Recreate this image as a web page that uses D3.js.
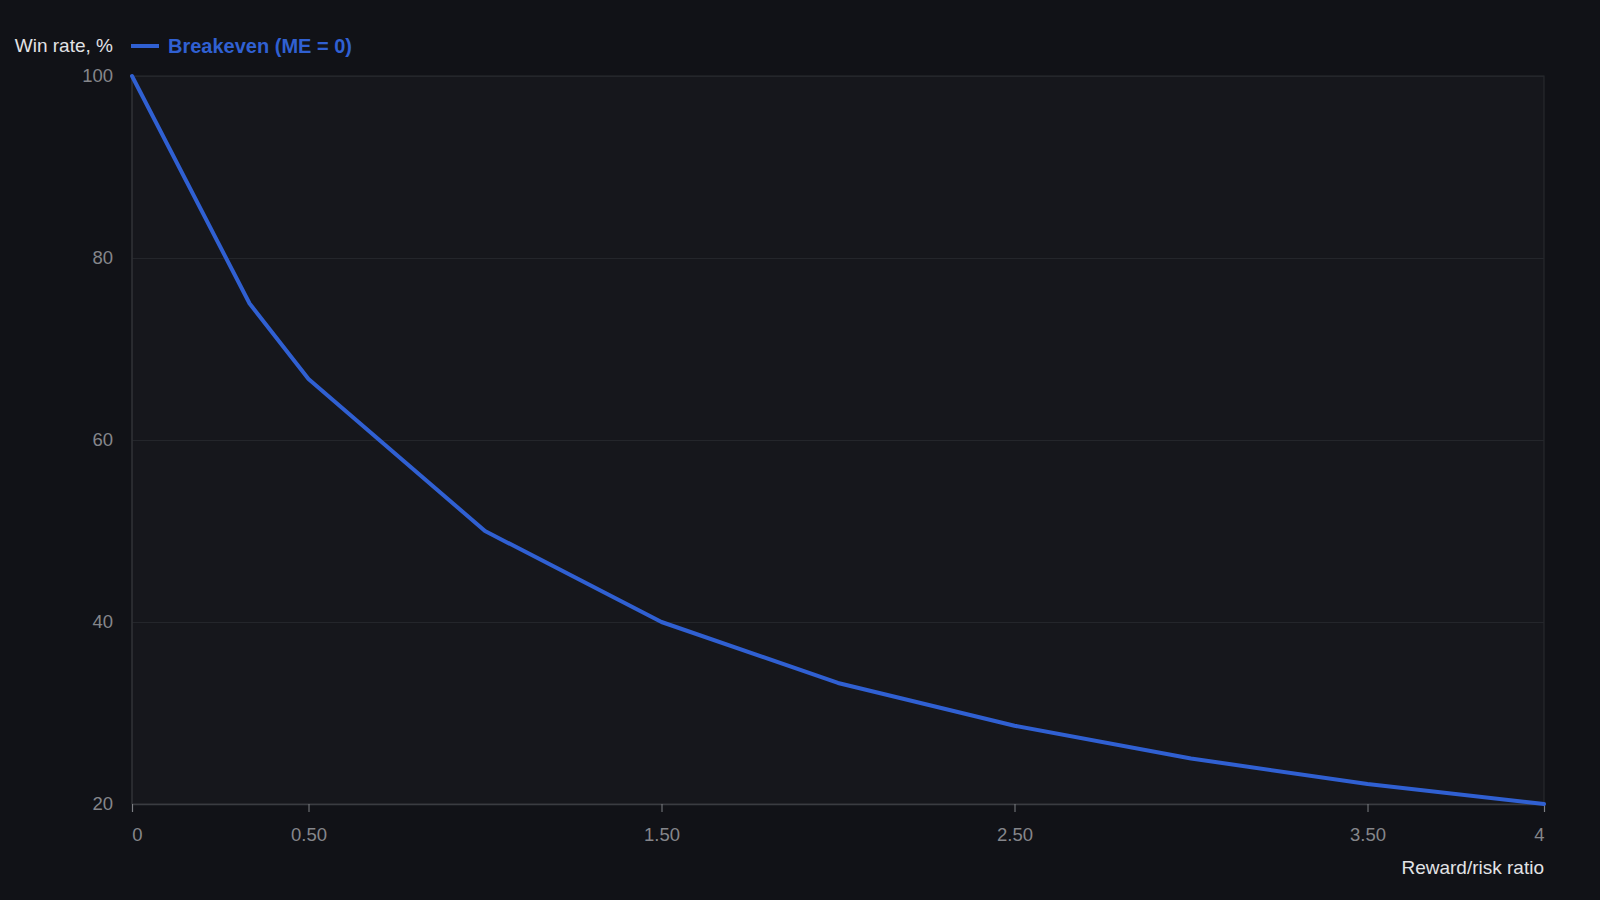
<!DOCTYPE html>
<html>
<head>
<meta charset="utf-8">
<script src="https://cdn.jsdelivr.net/npm/d3@7"></script>
<style>
  html, body { margin: 0; padding: 0; background: #111217; }
  #chart { width: 1600px; height: 900px; }
  text { font-family: "Liberation Sans", Arial, sans-serif; }
</style>
</head>
<body>
<div id="chart"></div>
<script>
// reward/risk ratio vs breakeven win rate
var ratios = [0, 0.333, 0.5, 1, 1.5, 2, 2.5, 3, 3.5, 4]
var winRates = [100, 75, 66.7, 50, 40, 33.3, 28.6, 25, 22.2, 20]
var xTicks = [0, 0.5, 1.5, 2.5, 3.5, 4]
var xTickLabels = ["0", "0.50", "1.50", "2.50", "3.50", "4"]
var yTicks = [20, 40, 60, 80, 100]

var margin = { top: 76, right: 56, bottom: 96, left: 132 },
    width = 1600 - margin.left - margin.right,
    height = 900 - margin.top - margin.bottom;

var svg = d3.select("#chart")
    .append("svg")
    .attr("width", 1600)
    .attr("height", 900)

var g = svg.append("g")
    .attr("transform", "translate(" + margin.left + "," + margin.top + ")")

// plot background
g.append("rect")
    .attr("x", 0)
    .attr("y", 0)
    .attr("width", width)
    .attr("height", height)
    .style("fill", "#16171c")
    .style("stroke", "#2a2c31")

var x = d3.scaleLinear().domain([0, 4]).range([0, width])
var y = d3.scaleLinear().domain([20, 100]).range([height, 0])

// y grid + labels
var yAxis = g.append("g")
    .call(d3.axisLeft(y).tickValues(yTicks).tickSize(-width).tickPadding(19))
yAxis.select(".domain").remove()
yAxis.selectAll(".tick line").style("stroke", "#24262b")
yAxis.selectAll(".tick text")
    .style("fill", "#85868b")
    .style("font-size", "18.5px")
    .style("font-family", "'Liberation Sans', Arial, sans-serif")

// left axis line
g.append("line")
    .attr("x1", 0).attr("x2", 0)
    .attr("y1", 0).attr("y2", height)
    .style("stroke", "#34363b")

// x axis
var xAxis = g.append("g")
    .attr("transform", "translate(0," + height + ")")
    .call(d3.axisBottom(x).tickValues(xTicks)
        .tickFormat(function (d, i) { return xTickLabels[i] })
        .tickSize(8).tickPadding(16))
xAxis.select(".domain").style("stroke", "#3a3c41").style("stroke-width", 1.5)
xAxis.selectAll(".tick line").style("stroke", "#7d7e83")
xAxis.selectAll(".tick text")
    .style("fill", "#85868b")
    .style("font-size", "18.5px")
    .style("font-family", "'Liberation Sans', Arial, sans-serif")
xAxis.selectAll(".tick text")
    .filter(function (d, i) { return i == 0 })
    .attr("dx", 5)
xAxis.selectAll(".tick text")
    .filter(function (d, i) { return i == xTicks.length - 1 })
    .attr("dx", -5)

// line
var line = d3.line()
    .x(function (d, i) { return x(ratios[i]) })
    .y(function (d) { return y(d) })

g.append("path")
    .datum(winRates)
    .attr("d", line)
    .style("fill", "none")
    .style("stroke", "#3060d2")
    .style("stroke-width", 4)
    .style("stroke-linejoin", "round")
    .style("stroke-linecap", "round")

// y label
svg.append("text")
    .attr("x", 113)
    .attr("y", 52)
    .attr("text-anchor", "end")
    .style("fill", "#e2e3e6")
    .style("font-size", "19px")
    .text("Win rate, %")

// legend
svg.append("line")
    .attr("x1", 131).attr("x2", 159)
    .attr("y1", 46).attr("y2", 46)
    .style("stroke", "#3060d2")
    .style("stroke-width", 4)

svg.append("text")
    .attr("x", 168)
    .attr("y", 53)
    .style("fill", "#3060d2")
    .style("font-size", "20px")
    .style("font-weight", "bold")
    .text("Breakeven (ME = 0)")

// x label
svg.append("text")
    .attr("x", 1544)
    .attr("y", 874)
    .attr("text-anchor", "end")
    .style("fill", "#e2e3e6")
    .style("font-size", "19px")
    .text("Reward/risk ratio")
</script>
</body>
</html>
